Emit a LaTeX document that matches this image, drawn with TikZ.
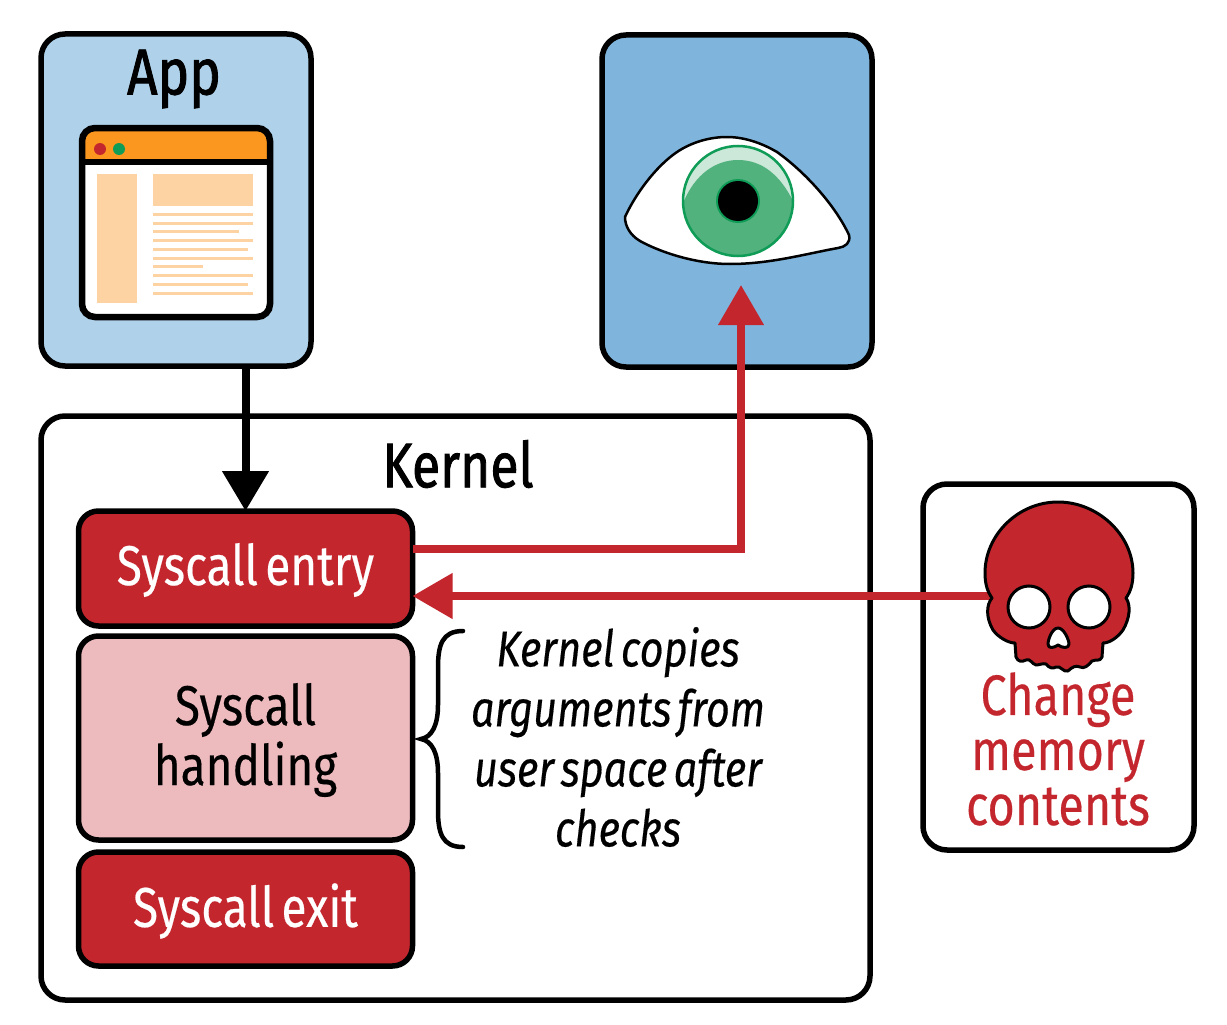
\documentclass[tikz,border=0pt]{standalone}
\usepackage{fontspec}
\setmainfont[FakeStretch=0.82,FakeBold=0.35,WordSpace=0.6]{Fira Sans}
\newfontfamily\headfont[FakeStretch=0.82,FakeBold=1.3]{Fira Sans}
\usetikzlibrary{arrows.meta}
\definecolor{appblue}{HTML}{AFD2EA}
\definecolor{eyeblue}{HTML}{7FB5DD}
\definecolor{hred}{HTML}{C4262E}
\definecolor{lred}{HTML}{EDBBBE}
\definecolor{wino}{HTML}{FB961F}
\definecolor{winl}{HTML}{FDD3A3}
\definecolor{igreen}{HTML}{52B27E}
\definecolor{dgreen}{HTML}{0E9C57}
\tikzset{
  panel/.style={draw=black,line width=5.5pt,rounded corners=24pt,inner sep=0pt,outer sep=0pt},
  stepbox/.style={draw=black,line width=5.5pt,rounded corners=20pt,inner sep=0pt,outer sep=0pt,minimum width=334pt},
  head/.style={font=\headfont\fontsize{63}{66}\selectfont,inner sep=0pt},
  boxtext/.style={font=\fontsize{56}{60}\selectfont,inner sep=0pt,align=center},
  note/.style={font=\fontsize{50.5}{60}\selectfont\itshape,inner sep=0pt,align=center},
  redtext/.style={font=\fontsize{57}{55}\selectfont,inner sep=0pt,align=center,text=hred},
  blackarrow/.style={line width=8pt,draw=black,-{Triangle[length=40pt,width=45pt]}},
  redarrow/.style={line width=7.5pt,draw=hred,-{Triangle[length=40pt,width=44pt]}},
  winline/.style={line width=3pt,draw=winl},
}
\begin{document}
\begin{tikzpicture}[x=1pt,y=-1pt]
\useasboundingbox (0,0) rectangle (1227,1025);
% panels
\node[panel,fill=appblue,minimum width=270pt,minimum height=332pt] (app) at (176,200) {};
\node[panel,fill=eyeblue,minimum width=270pt,minimum height=332pt] (eyebox) at (737,201) {};
\node[panel,fill=white,minimum width=829pt,minimum height=584pt] (kernel) at (455.5,708) {};
\node[panel,fill=white,minimum width=271pt,minimum height=366pt] (attack) at (1058.5,667) {};
\node[stepbox,fill=hred,minimum height=115pt] (entry) at (245.5,568.5) {};
\node[stepbox,fill=lred,minimum height=204pt] (handling) at (245.5,738) {};
\node[stepbox,fill=hred,minimum height=114pt] (exit) at (245.5,909) {};
% labels
\node[head,font=\headfont\fontsize{65}{66}\selectfont] (applabel) at (174,79) {App};
\node[head] (kernellabel) at (458,464) {Kernel};
\node[boxtext,text=white] (entrylabel) at (245.5,570) {Syscall entry};
\node[boxtext] (handlinglabel) at (245.5,740) {Syscall\\handling};
\node[boxtext,text=white] (exitlabel) at (245.5,911) {Syscall exit};
\node[note] (notelabel) at (618,737) {Kernel copies\\arguments from\\user space after\\checks};
\node[redtext] (changelabel) at (1058,749) {Change\\memory\\contents};
% brace
\draw[line width=4.5pt,line cap=round] (463,631) .. controls (442,631) and (438,645) .. (438,668)
  -- (438,705) .. controls (438,725) and (432,737) .. (421,739)
  .. controls (432,741) and (438,753) .. (438,773) -- (438,810)
  .. controls (438,833) and (442,847) .. (463,847);
% window icon
\begin{scope}
\path[clip,rounded corners=13pt] (82,128) rectangle (270,317);
\fill[white] (82,128) rectangle (270,317);
\fill[wino] (82,128) rectangle (270,160);
\end{scope}
\fill[winl] (97,174) rectangle (137,303);
\fill[winl] (153,174) rectangle (253,206);
\draw[winline] (153,214) -- (253,214);
\draw[winline] (153,223) -- (253,223);
\draw[winline] (153,231) -- (239,231);
\draw[winline] (153,240) -- (253,240);
\draw[winline] (153,249) -- (248,249);
\draw[winline] (153,258) -- (253,258);
\draw[winline] (153,266) -- (203,266);
\draw[winline] (153,275) -- (253,275);
\draw[winline] (153,284) -- (248,284);
\draw[winline] (153,293) -- (253,293);
\draw[line width=6.5pt,rounded corners=13pt] (82,128) rectangle (270,317);
\draw[line width=6.5pt] (80,162) -- (272,162);
\fill[hred] (100,149) circle (6);
\fill[dgreen] (119,149) circle (6);
% eye
\draw[fill=white,line width=2.5pt,line join=round] (625,217)
  .. controls (635,195) and (655,167) .. (677,152)
  .. controls (692,142) and (710,137) .. (727,137)
  .. controls (747,137) and (765,145) .. (777,152)
  .. controls (805,172) and (835,205) .. (849,235)
  .. controls (851,243) and (845,247) .. (838,248)
  .. controls (805,254) and (770,264) .. (730,264)
  .. controls (695,264) and (660,252) .. (640,241)
  .. controls (630,235) and (625,226) .. (625,217) -- cycle;
\fill[white!70!igreen] (738,201) circle (55);
\begin{scope}
\clip (738,201) circle (55);
\fill[igreen] (684,201) .. controls (695,175) and (715,160) .. (738,160)
  .. controls (762,160) and (780,175) .. (793,201) -- (793,260) -- (684,260) -- cycle;
\end{scope}
\draw[dgreen,line width=2.5pt] (738,201) circle (55);
\fill[dgreen] (738,201) circle (22);
\fill[black] (738,201) circle (20);
% skull
\coordinate (skullleft) at (990,596);
\coordinate (eyetip) at (741,285);
% connectors
\draw[blackarrow] (entry.north |- app.south) -- (entry.north);
\draw[redarrow] ([yshift=19.5pt]entry.east) -| (eyetip);
\draw[redarrow] (skullleft) -- (skullleft -| entry.east);
\draw[fill=hred,line width=3pt,line join=round] (1058,502)
  .. controls (1018,502) and (985,535) .. (985,573)
  .. controls (985,583) and (987,591) .. (992,598)
  .. controls (986,605) and (986,618) .. (993,630)
  .. controls (998,637) and (1008,643) .. (1015,643)
  -- (1016,657) .. controls (1018,662) and (1022,662) .. (1026,660)
  .. controls (1030,658) and (1032,664) .. (1036,665)
  .. controls (1040,665) and (1042,663) .. (1046,664)
  .. controls (1049,668) and (1053,669) .. (1056,667)
  .. controls (1060,665) and (1064,673) .. (1068,671)
  .. controls (1072,667) and (1076,665) .. (1080,667)
  .. controls (1084,669) and (1088,666) .. (1092,661)
  .. controls (1096,659) and (1100,662) .. (1102,657)
  -- (1103,643)
  .. controls (1110,643) and (1118,637) .. (1123,630)
  .. controls (1130,618) and (1131,605) .. (1126,598)
  .. controls (1131,591) and (1133,583) .. (1133,573)
  .. controls (1133,535) and (1098,502) .. (1058,502) -- cycle;
\draw[fill=white,line width=3pt] (1029,607) circle (21);
\draw[fill=white,line width=3pt] (1089,607) circle (21);
\draw[fill=white,line width=3pt,line join=round] (1058,628)
  .. controls (1064,628) and (1069,640) .. (1069,644)
  .. controls (1069,649) and (1062,648) .. (1058,645)
  .. controls (1054,648) and (1048,649) .. (1048,644)
  .. controls (1048,640) and (1052,628) .. (1058,628) -- cycle;
\end{tikzpicture}
\end{document}
